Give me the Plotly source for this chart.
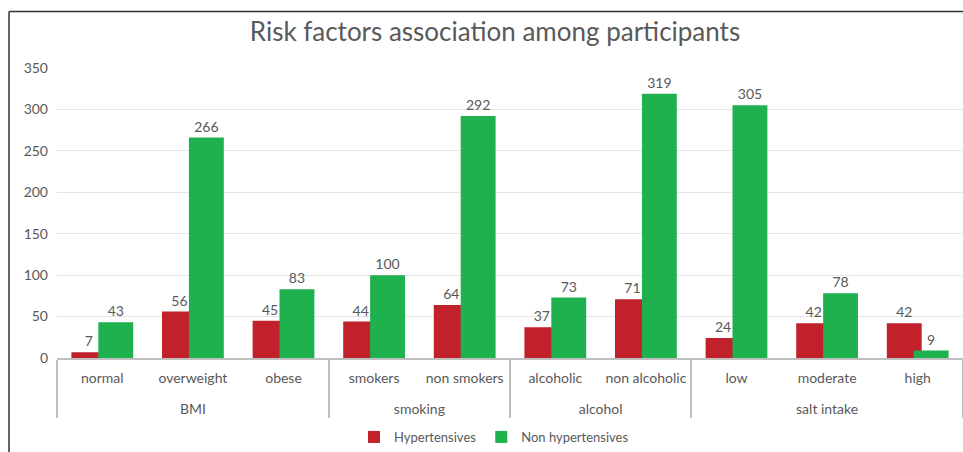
import plotly.graph_objects as go

groups = ["BMI", "BMI", "BMI", "smoking", "smoking", "alcohol", "alcohol",
          "salt intake", "salt intake", "salt intake"]
categories = ["normal", "overweight", "obese", "smokers", "non smokers",
              "alcoholic", "non alcoholic", "low", "moderate", "high"]
hypertensives = [7, 56, 45, 44, 64, 37, 71, 24, 42, 42]
non_hypertensives = [43, 266, 83, 100, 292, 73, 319, 305, 78, 9]
y_ticks = [0, 50, 100, 150, 200, 250, 300, 350]

RED = "#C0212A"
GREEN = "#20B14F"
TXT = "#595959"
FONT = "Lato"

# outer (group) row is pushed down one line, as in the reference
group_labels = ["<br>" + g for g in groups]

fig = go.Figure()
fig.add_trace(go.Bar(
    x=[group_labels, categories], y=hypertensives, name="Hypertensives",
    marker=dict(color=RED, line=dict(width=0)),
    offset=-0.341, width=0.385,
    text=hypertensives, textposition="outside", cliponaxis=False,
    textfont=dict(color=TXT, size=14, family=FONT),
))
fig.add_trace(go.Bar(
    x=[group_labels, categories], y=non_hypertensives, name="Non hypertensives",
    marker=dict(color=GREEN, line=dict(width=0)),
    offset=-0.044, width=0.385,
    text=non_hypertensives, textposition="outside", cliponaxis=False,
    textfont=dict(color=TXT, size=14, family=FONT),
))

W, H = 963, 452
L, R, T, B = 57, 0, 68, 92
pw, ph = W - L - R, H - T - B

def px_x(px):
    return (px - L) / pw

def px_y(py):
    return (H - B - py) / ph

fig.update_layout(
    width=W, height=H,
    margin=dict(l=L, r=R, t=T, b=B),
    paper_bgcolor="white", plot_bgcolor="white",
    barmode="overlay",
    font=dict(family=FONT, color=TXT, size=14),
    title=dict(text="Risk factors association among participants",
               x=495 / W, xanchor="center", xref="container",
               y=1 - 32 / H, yanchor="middle", yref="container",
               font=dict(family=FONT, size=26, color=TXT)),
    showlegend=True,
    legend=dict(orientation="h", x=px_x(494), xanchor="center",
                y=px_y(440), yanchor="middle",
                font=dict(family=FONT, size=13, color=TXT),
                itemwidth=30, tracegroupgap=0),
    xaxis=dict(type="multicategory", showline=True, linecolor="#BFBFBF",
               linewidth=1.5, ticks="", showgrid=False,
               showdividers=True, dividercolor="#BFBFBF", dividerwidth=1.5,
               ticklabelstandoff=6,
               tickfont=dict(family=FONT, size=14, color=TXT)),
    yaxis=dict(range=[0, 350], tickvals=y_ticks, showgrid=True,
               gridcolor="#E5E5E5", gridwidth=1, zeroline=False,
               showline=False, ticks="", ticklabelstandoff=8,
               tickfont=dict(family=FONT, size=14, color=TXT)),
    shapes=[
        dict(type="line", xref="paper", yref="paper",
             x0=px_x(9), x1=px_x(9), y0=px_y(11), y1=px_y(460),
             line=dict(color="#333333", width=1.5)),
        dict(type="line", xref="paper", yref="paper",
             x0=px_x(9), x1=px_x(970), y0=px_y(11), y1=px_y(11),
             line=dict(color="#333333", width=1.5)),
    ],
)

fig.write_html("out.html")
